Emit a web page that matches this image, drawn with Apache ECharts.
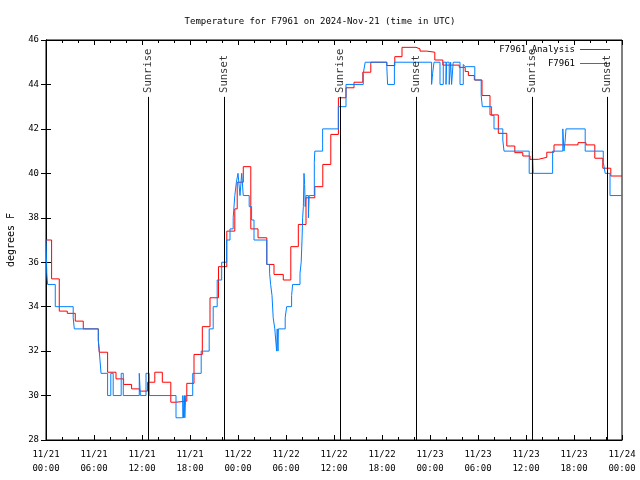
<!DOCTYPE html>
<html><head><meta charset="utf-8">
<script src="https://cdn.jsdelivr.net/npm/echarts@6.0.0/dist/echarts.min.js"></script>
<style>html,body{margin:0;padding:0;background:#fff}#c{width:640px;height:480px}</style>
</head><body><div id="c"></div>
<script>
// hours since 2024-11-21 00:00 UTC
const anaHours = [0,0.7,1.66,2.66,3.66,4.66,6.54,6.66,7.7,8.75,9.7,10.7,11.7,12.7,13.6,14.54,15.6,16.25,17.6,18.5,19.54,20.5,21.56,22.6,23.6,23.9,24.66,25.6,26.5,27.6,28.5,29.66,30.6,31.54,32.5,33.6,34.6,35.6,36.55,37.5,38.5,39.6,40.6,42.6,43.6,44.5,46.25,46.75,47.6,48.6,49.6,51.66,52.4,52.8,53.54,54.5,55.5,56.54,57.6,58.6,59.6,60.5,61.54,62.6,63.5,66.5,67.5,68.6,69.6,70.6,72];
const anaTemps = [37.0,35.25,33.8,33.7,33.35,33.0,32.47,31.95,31.05,30.75,30.5,30.3,30.2,30.6,31.05,30.6,29.7,29.75,30.55,31.85,33.1,34.4,35.8,37.4,38.4,39.6,40.3,37.5,37.1,35.9,35.45,35.2,36.7,37.7,38.9,39.4,40.4,41.75,43.4,43.85,44.1,44.55,45.0,44.85,45.25,45.67,45.6,45.5,45.45,45.1,44.87,44.77,44.58,44.4,44.2,43.5,42.63,41.8,41.23,40.93,40.78,40.63,40.72,40.95,41.28,41.38,41.28,40.68,40.23,39.88,39.88];
const obsHours = [0,0.1,0.2,1.16,3.4,3.54,6.54,6.66,6.88,7.7,8.1,8.4,9.4,9.66,11.66,11.8,12.5,12.9,16.25,17.1,17.2,17.3,17.35,17.46,18.34,19.4,20.4,20.9,21.4,21.96,22.58,23.0,23.4,23.6,23.8,24.0,24.25,24.46,24.66,25.4,25.7,26.0,27.6,27.95,28.08,28.25,28.4,28.6,28.83,28.9,29.0,29.05,29.9,30.08,30.7,30.83,31.75,31.9,32.0,32.08,32.17,32.25,32.33,32.4,32.5,32.8,32.9,33.54,33.6,34.58,36.54,37.5,39.66,39.9,42.6,42.7,43.55,48.2,48.33,48.5,49.25,49.66,50.0,50.08,50.4,50.58,50.7,50.9,51.75,52.16,52.4,53.6,54.4,54.54,55.7,56.0,57.1,57.25,60.4,60.8,60.9,63.33,64.6,64.75,64.9,65.0,67.4,69.66,69.9,70.5,72];
const obsTemps = [37,35.5,35.0,34.0,33.5,33.0,32.5,32.0,31.0,30.0,31.0,30.0,31.0,30.0,31.0,30.0,31.0,30.0,29.0,30.0,29.0,30.0,29.0,30.0,31.0,32.0,33.0,34.0,35.2,36.0,37.0,37.5,38.0,39.0,39.6,40.0,39.0,40.0,39.0,38.5,37.9,37.0,35.9,35.5,35.0,34.5,33.5,33.0,32.0,33.0,32.0,33.0,33.5,34.0,34.5,35.0,35.5,36.0,37.0,38.0,38.5,40.0,39.5,38.5,39.0,38.0,39.0,40.5,41.0,42.0,43.0,44.0,44.5,45.0,44.8,44.0,45.0,44.0,44.5,45.0,44.0,45.0,44.0,45.0,44.0,45.0,44.0,45.0,44.0,44.9,44.8,44.2,43.5,43.0,42.6,42.0,41.5,41.0,40.0,41.0,40.0,41.0,42.0,41.0,41.5,42.0,41.0,40.5,40.0,39.0,39.0];
const eventHours = [12.78,22.28,36.8,46.27,60.8,70.2];
const eventNames = ['Sunrise','Sunset','Sunrise','Sunset','Sunrise','Sunset'];
const eventLineTop = 43.44;
const eventLabelY = 43.62;
const yTicks = [28,30,32,34,36,38,40,42,44,46];

const FONT = 'DejaVu Sans Mono';
const pairs = (xs, ys) => xs.map((x, i) => [x, ys[i]]);
function fmtX(v) {
  const day = 21 + Math.floor(v / 24 + 1e-9);
  const hr = Math.round(v - (day - 21) * 24);
  return '11/' + day + '\n' + String(hr).padStart(2, '0') + ':00';
}
const evLines = eventHours.map(h => [{coord: [h, 28]}, {coord: [h, eventLineTop]}]);
const chart = echarts.init(document.getElementById('c'), null, {renderer: 'canvas'});
chart.setOption({
  animation: false,
  backgroundColor: '#fff',
  textStyle: {fontFamily: FONT, fontSize: 9, color: '#000'},
  title: {text: 'Temperature for F7961 on 2024-Nov-21 (time in UTC)', left: 'center', top: 12,
    textStyle: {fontFamily: FONT, fontSize: 9, fontWeight: 'normal', color: '#000'}},
  legend: {data: ['F7961 Analysis', 'F7961'], orient: 'vertical', right: 25, top: 39, align: 'right',
    icon: 'rect', itemWidth: 30, itemHeight: 1, itemGap: 3,
    textStyle: {fontFamily: FONT, fontSize: 9, color: '#000', lineHeight: 11}},
  grid: {left: 46, right: 18, top: 40, bottom: 40, show: true, borderColor: '#000', borderWidth: 1,
    containLabel: false, outerBoundsMode: 'none'},
  xAxis: [{type: 'value', min: 0, max: 72, interval: 6,
    axisLine: {lineStyle: {color: '#000'}}, splitLine: {show: false},
    axisTick: {inside: true, length: 5, lineStyle: {color: '#000'}},
    minorTick: {show: true, splitNumber: 3, length: 3, lineStyle: {color: '#000'}},
    axisLabel: {formatter: fmtX, color: '#000', fontFamily: FONT, fontSize: 9, lineHeight: 14, margin: 8}},
   {type: 'value', min: 0, max: 72, interval: 6, position: 'top',
    axisLine: {lineStyle: {color: '#000'}}, splitLine: {show: false},
    axisTick: {inside: true, length: 5, lineStyle: {color: '#000'}},
    minorTick: {show: true, splitNumber: 3, length: 3, lineStyle: {color: '#000'}},
    axisLabel: {show: false}}],
  yAxis: [{type: 'value', min: 28, max: 46, interval: 2, name: 'degrees F', nameLocation: 'middle', nameGap: 30,
    nameTextStyle: {fontFamily: FONT, fontSize: 10, color: '#000'},
    axisLine: {show: true, lineStyle: {color: '#000'}}, splitLine: {show: false},
    axisTick: {inside: true, length: 5, lineStyle: {color: '#000'}},
    axisLabel: {color: '#000', fontFamily: FONT, fontSize: 9, margin: 7}},
   {type: 'value', min: 28, max: 46, interval: 2, position: 'right',
    axisLine: {show: true, lineStyle: {color: '#000'}}, splitLine: {show: false},
    axisTick: {inside: true, length: 5, lineStyle: {color: '#000'}},
    axisLabel: {show: false}}],
  series: [
    {name: 'F7961 Analysis', type: 'line', step: 'end', data: pairs(anaHours, anaTemps), showSymbol: false,
     color: '#ff0000', lineStyle: {width: 1, color: '#ff0000'}, z: 3},
    {name: 'F7961', type: 'line', step: 'end', data: pairs(obsHours, obsTemps), showSymbol: false,
     color: '#0080ff', lineStyle: {width: 1, color: '#0080ff'}, z: 4},
    {name: 'events', type: 'line', data: [], silent: true, z: 5,
     markLine: {silent: true, symbol: ['none', 'none'], label: {show: false},
       lineStyle: {color: '#000', width: 1, type: 'solid'}, emphasis: {disabled: true}, data: evLines}},
    {name: 'eventLabels', type: 'scatter', symbolSize: 0, silent: true, z: 6,
     data: eventHours.map((h, i) => [h, eventLabelY, eventNames[i]]),
     label: {show: true, formatter: p => p.value[2], rotate: 90, position: 'inside', align: 'left', verticalAlign: 'middle',
       fontFamily: FONT, fontSize: 10.5, color: '#000'}}
  ]
});
</script></body></html>
